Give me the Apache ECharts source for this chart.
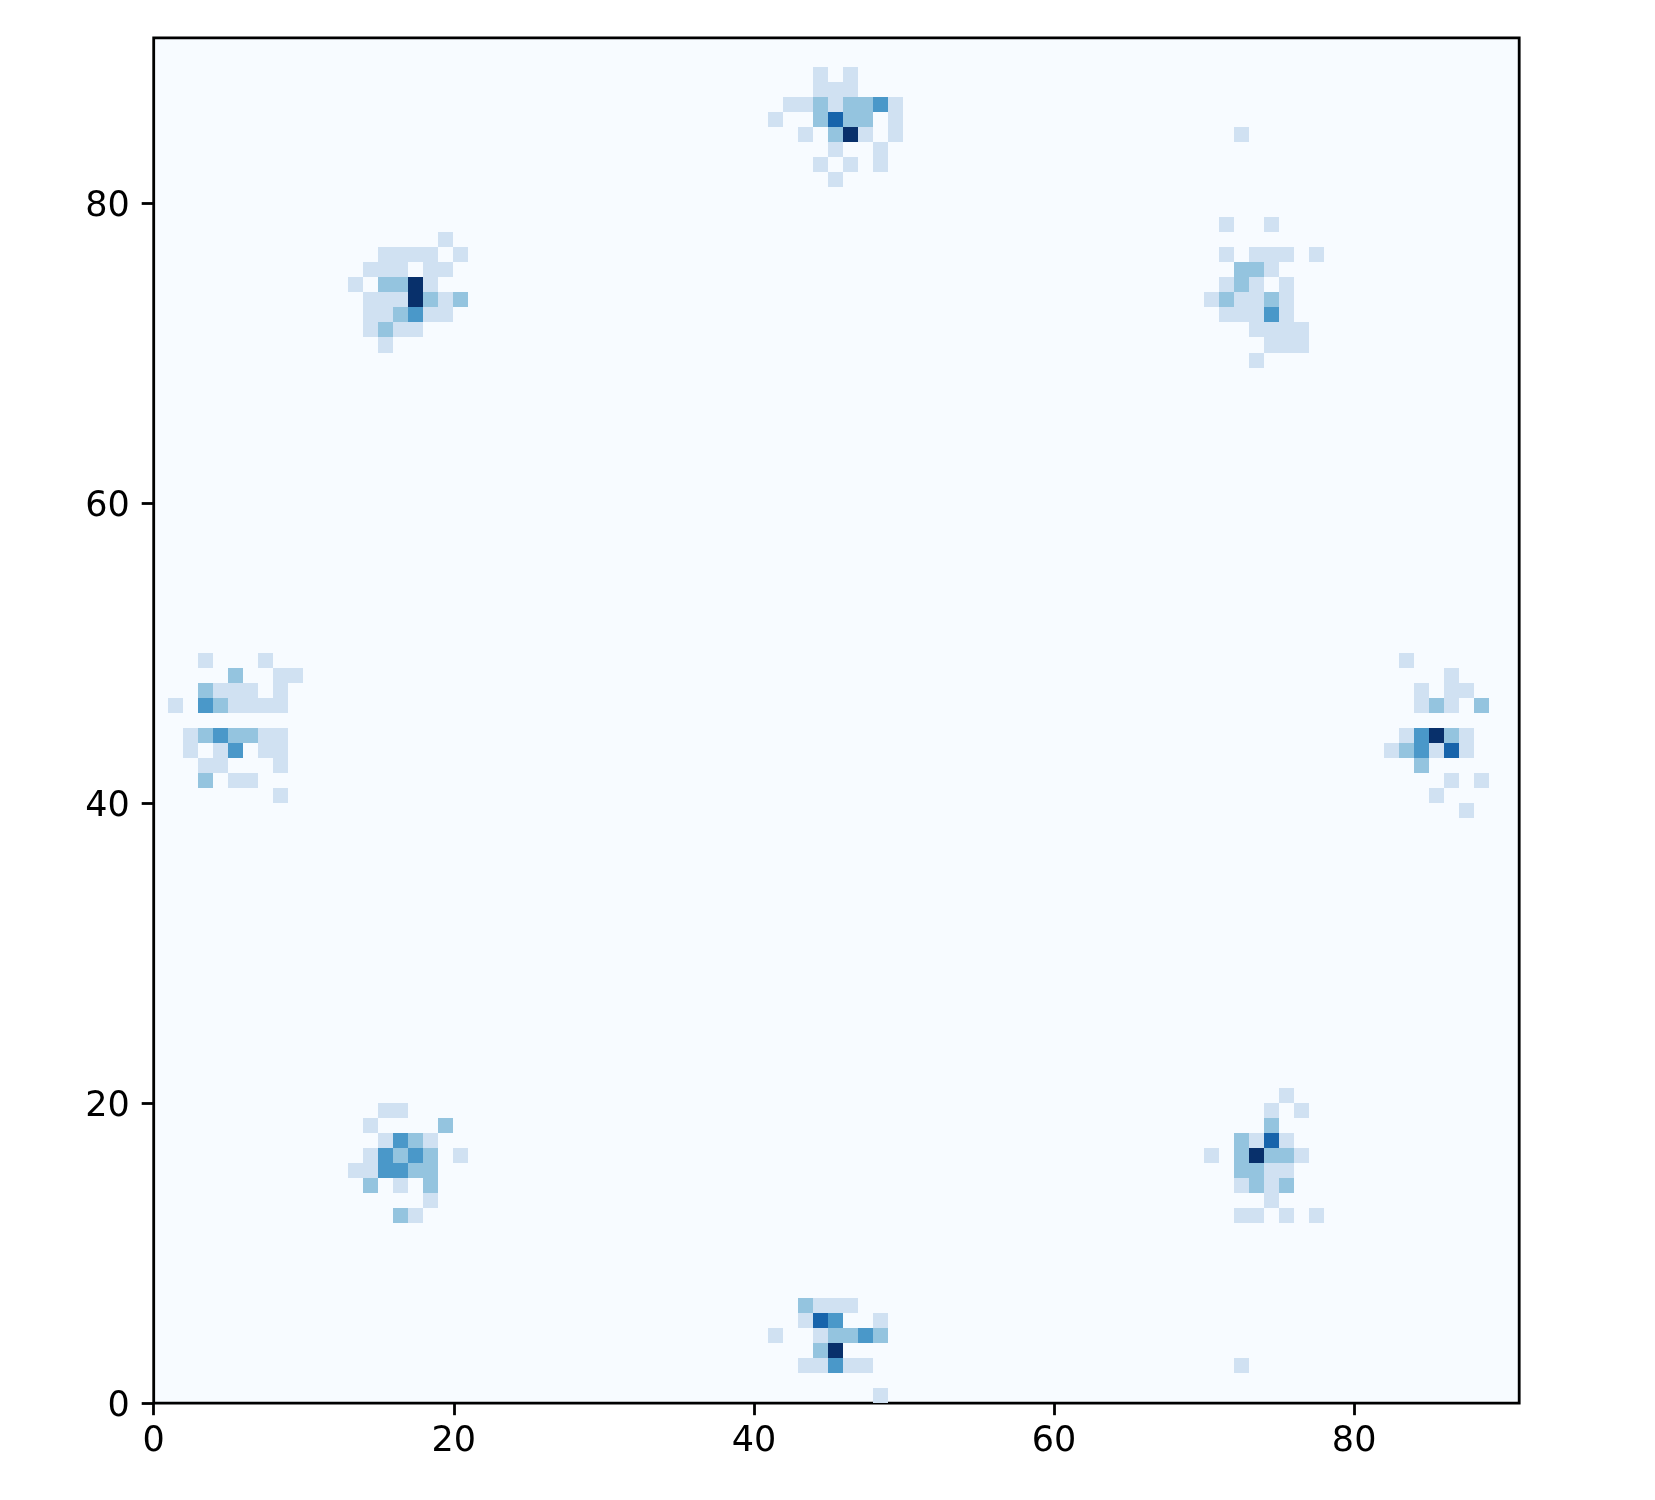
<!DOCTYPE html>
<html>
<head>
<meta charset="utf-8">
<title>2D histogram</title>
<script src="https://cdn.jsdelivr.net/npm/echarts@6/dist/echarts.min.js"></script>
<style>
  html, body { margin: 0; padding: 0; background: #fff; }
  #chart { width: 1655px; height: 1500px; }
</style>
</head>
<body>
<div id="chart"></div>
<script>
// cells are [column, row, count], zero cells are left to the grid background
const topCluster = [
  [44, 88, 1], [46, 88, 1],
  [44, 87, 1], [45, 87, 1], [46, 87, 1],
  [42, 86, 1], [43, 86, 1], [44, 86, 2], [45, 86, 1], [46, 86, 2], [47, 86, 2], [48, 86, 3], [49, 86, 1],
  [41, 85, 1], [44, 85, 2], [45, 85, 4], [46, 85, 2], [47, 85, 2], [49, 85, 1],
  [43, 84, 1], [45, 84, 2], [46, 84, 5], [47, 84, 1], [49, 84, 1],
  [45, 83, 1], [48, 83, 1],
  [44, 82, 1], [46, 82, 1], [48, 82, 1],
  [45, 81, 1],
];
const upperLeftCluster = [
  [19, 77, 1],
  [15, 76, 1], [16, 76, 1], [17, 76, 1], [18, 76, 1], [20, 76, 1],
  [14, 75, 1], [15, 75, 1], [16, 75, 1], [18, 75, 1], [19, 75, 1],
  [13, 74, 1], [15, 74, 2], [16, 74, 2], [17, 74, 5], [18, 74, 1],
  [14, 73, 1], [15, 73, 1], [16, 73, 1], [17, 73, 5], [18, 73, 2], [19, 73, 1], [20, 73, 2],
  [14, 72, 1], [15, 72, 1], [16, 72, 2], [17, 72, 3], [18, 72, 1], [19, 72, 1],
  [14, 71, 1], [15, 71, 2], [16, 71, 1], [17, 71, 1],
  [15, 70, 1],
];
const upperRightCluster = [
  [72, 84, 1],
  [71, 78, 1], [74, 78, 1],
  [71, 76, 1], [73, 76, 1], [74, 76, 1], [75, 76, 1], [77, 76, 1],
  [72, 75, 2], [73, 75, 2], [74, 75, 1],
  [71, 74, 1], [72, 74, 2], [73, 74, 1], [75, 74, 1],
  [70, 73, 1], [71, 73, 2], [72, 73, 1], [73, 73, 1], [74, 73, 2], [75, 73, 1],
  [71, 72, 1], [72, 72, 1], [73, 72, 1], [74, 72, 3], [75, 72, 1],
  [73, 71, 1], [74, 71, 1], [75, 71, 1], [76, 71, 1],
  [74, 70, 1], [75, 70, 1], [76, 70, 1],
  [73, 69, 1],
];
const leftCluster = [
  [3, 49, 1], [7, 49, 1],
  [5, 48, 2], [8, 48, 1], [9, 48, 1],
  [3, 47, 2], [4, 47, 1], [5, 47, 1], [6, 47, 1], [8, 47, 1],
  [1, 46, 1], [3, 46, 3], [4, 46, 2], [5, 46, 1], [6, 46, 1], [7, 46, 1], [8, 46, 1],
  [2, 44, 1], [3, 44, 2], [4, 44, 3], [5, 44, 2], [6, 44, 2], [7, 44, 1], [8, 44, 1],
  [2, 43, 1], [4, 43, 1], [5, 43, 3], [7, 43, 1], [8, 43, 1],
  [3, 42, 1], [4, 42, 1], [8, 42, 1],
  [3, 41, 2], [5, 41, 1], [6, 41, 1],
  [8, 40, 1],
];
const rightCluster = [
  [83, 49, 1],
  [86, 48, 1],
  [84, 47, 1], [86, 47, 1], [87, 47, 1],
  [84, 46, 1], [85, 46, 2], [86, 46, 1], [88, 46, 2],
  [83, 44, 1], [84, 44, 3], [85, 44, 5], [86, 44, 2], [87, 44, 1],
  [82, 43, 1], [83, 43, 2], [84, 43, 3], [85, 43, 1], [86, 43, 4], [87, 43, 1],
  [84, 42, 2],
  [86, 41, 1], [88, 41, 1],
  [85, 40, 1],
  [87, 39, 1],
];
const lowerLeftCluster = [
  [15, 19, 1], [16, 19, 1],
  [14, 18, 1], [19, 18, 2],
  [15, 17, 1], [16, 17, 3], [17, 17, 2], [18, 17, 1],
  [14, 16, 1], [15, 16, 3], [16, 16, 2], [17, 16, 3], [18, 16, 2], [20, 16, 1],
  [13, 15, 1], [14, 15, 1], [15, 15, 3], [16, 15, 3], [17, 15, 2], [18, 15, 2],
  [14, 14, 2], [16, 14, 1], [18, 14, 2],
  [18, 13, 1],
  [16, 12, 2], [17, 12, 1],
];
const lowerRightCluster = [
  [75, 20, 1],
  [74, 19, 1], [76, 19, 1],
  [74, 18, 2],
  [72, 17, 2], [73, 17, 1], [74, 17, 4], [75, 17, 1],
  [70, 16, 1], [72, 16, 2], [73, 16, 5], [74, 16, 2], [75, 16, 2], [76, 16, 1],
  [72, 15, 2], [73, 15, 2], [74, 15, 1], [75, 15, 1],
  [72, 14, 1], [73, 14, 2], [74, 14, 1], [75, 14, 2],
  [74, 13, 1],
  [72, 12, 1], [73, 12, 1], [75, 12, 1], [77, 12, 1],
];
const bottomCluster = [
  [43, 6, 2], [44, 6, 1], [45, 6, 1], [46, 6, 1],
  [43, 5, 1], [44, 5, 4], [45, 5, 3], [48, 5, 1],
  [41, 4, 1], [44, 4, 1], [45, 4, 2], [46, 4, 2], [47, 4, 3], [48, 4, 2],
  [44, 3, 2], [45, 3, 5],
  [43, 2, 1], [44, 2, 1], [45, 2, 3], [46, 2, 1], [47, 2, 1], [72, 2, 1],
  [48, 0, 1],
];
const tickValues = [0, 20, 40, 60, 80];
const binCount = 91;

const blues = ["#f7fbff", "#d0e1f2", "#94c4df", "#4a98c9", "#1764ab", "#08306b"];

const cells = [
  ...topCluster,
  ...upperLeftCluster,
  ...upperRightCluster,
  ...leftCluster,
  ...rightCluster,
  ...lowerLeftCluster,
  ...lowerRightCluster,
  ...bottomCluster,
];

function renderCell(params, api) {
  const x = api.value(0);
  const y = api.value(1);
  // snap to whole pixels so neighbouring cells don't get soft edges
  const start = api.coord([x, y + 1]).map(Math.floor);
  const end = api.coord([x + 1, y]).map(Math.floor);
  return {
    type: "rect",
    shape: { x: start[0], y: start[1], width: end[0] - start[0], height: end[1] - start[1] },
    style: { fill: blues[api.value(2)] },
  };
}

function makeAxis(labelOptions) {
  return {
    type: "value",
    min: 0,
    max: binCount,
    splitLine: { show: false },
    axisLine: { show: false },
    axisTick: {
      customValues: tickValues,
      length: 12,
      lineStyle: { color: "#000", width: 2.8 },
    },
    axisLabel: {
      customValues: tickValues,
      color: "#000",
      fontFamily: "DejaVu Sans",
      fontSize: 35,
      ...labelOptions,
    },
  };
}

const chart = echarts.init(document.getElementById("chart"), null, { renderer: "canvas" });
chart.setOption({
  animation: false,
  backgroundColor: "#fff",
  grid: {
    left: 153.7,
    top: 37.94,
    width: 1365.5,
    height: 1365.27,
    show: true,
    backgroundColor: blues[0],
    borderColor: "#000",
    borderWidth: 2.8,
    z: 0,
  },
  xAxis: makeAxis({ margin: 21 }),
  yAxis: makeAxis({ margin: 24, verticalAlign: "top", lineHeight: 7 }),
  series: [
    {
      type: "custom",
      renderItem: renderCell,
      data: cells,
      encode: { x: 0, y: 1 },
      silent: true,
    },
  ],
});
</script>
</body>
</html>
